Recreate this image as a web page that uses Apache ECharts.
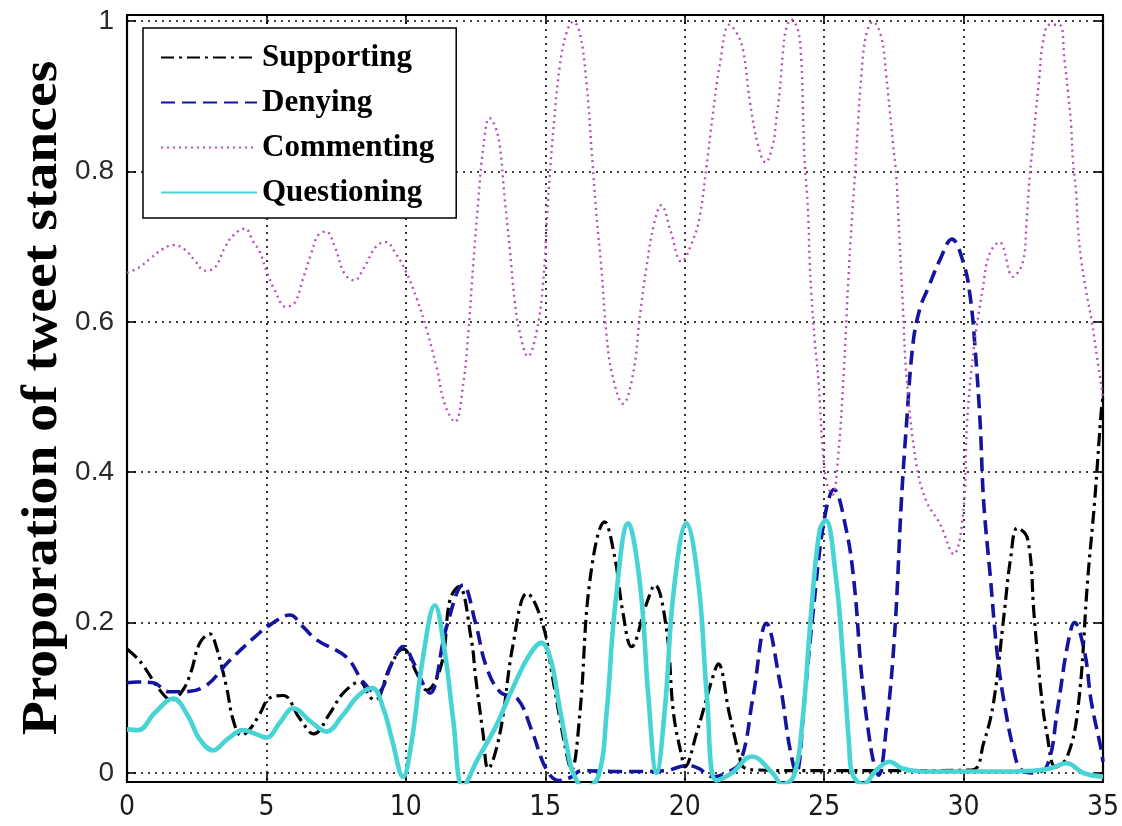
<!DOCTYPE html>
<html><head><meta charset="utf-8">
<script src="https://cdn.jsdelivr.net/npm/echarts@6/dist/echarts.min.js"></script>
<style>html,body{margin:0;padding:0;background:#fff}#c{width:1122px;height:826px}</style>
</head><body><div id="c"></div>
<script>
const seriesNames = ['Supporting', 'Denying', 'Commenting', 'Questioning'];
const yAxisTitle = 'Proporation of tweet stances';
const xTickValues = [0, 5, 10, 15, 20, 25, 30, 35];
const yTickValues = [0, 0.2, 0.4, 0.6, 0.8, 1];
const yTickLabels = ['0', '0.2', '0.4', '0.6', '0.8', '1'];

const supporting = [[0,0.165],[0.3,0.155],[0.6,0.142],[1.18,0.11],[1.6,0.097],[2.0,0.11],[2.3,0.135],[2.6,0.172],[2.97,0.185],[3.2,0.168],[3.57,0.114],[3.81,0.07],[4.1,0.05],[4.4,0.058],[4.71,0.075],[5.13,0.1],[5.6,0.103],[6.2,0.072],[6.7,0.052],[7.27,0.079],[7.75,0.106],[8.35,0.121],[8.71,0.101],[8.9,0.097],[9.43,0.141],[9.9,0.165],[10.4,0.132],[10.75,0.11],[11.28,0.145],[11.58,0.23],[11.9,0.248],[12.35,0.177],[12.5,0.128],[12.77,0.052],[12.95,0.006],[13.37,0.052],[13.85,0.172],[14.35,0.239],[14.9,0.199],[15.28,0.123],[15.76,0.026],[15.94,0.004],[16.24,0.079],[16.6,0.256],[17.13,0.334],[17.49,0.287],[17.79,0.212],[18.09,0.168],[18.63,0.225],[18.93,0.25],[19.35,0.19],[19.6,0.079],[19.9,0.021],[20.0,0.008],[20.42,0.052],[21.01,0.128],[21.2,0.145],[21.6,0.079],[21.97,0.021],[22.1,0.008],[22.6,0.004],[24,0.003],[26,0.003],[28,0.003],[30.3,0.004],[30.72,0.04],[31.08,0.095],[31.45,0.21],[31.69,0.286],[31.93,0.326],[32.3,0.311],[32.53,0.21],[32.77,0.11],[33.0,0.05],[33.3,0.008],[33.7,0.02],[34.1,0.085],[34.46,0.261],[34.7,0.361],[34.94,0.482],[35,0.5]];

const denying = [[0,0.12],[0.35,0.121],[0.94,0.12],[1.5,0.108],[1.9,0.108],[2.74,0.114],[3.69,0.15],[4.65,0.183],[5.13,0.197],[5.84,0.21],[6.3,0.195],[6.8,0.177],[7.87,0.154],[8.47,0.121],[8.95,0.106],[9.55,0.15],[9.9,0.168],[10.3,0.145],[10.6,0.12],[10.86,0.106],[11.46,0.194],[12.05,0.25],[12.5,0.199],[12.89,0.141],[13.4,0.107],[14.0,0.099],[14.5,0.058],[15.05,0.004],[15.5,-0.01],[15.9,-0.006],[16.3,0.003],[17.5,0.002],[18.5,0.002],[19.3,0.003],[20.1,0.01],[20.5,0.006],[21.0,-0.005],[21.5,0.0],[22.0,0.015],[22.45,0.101],[22.93,0.199],[23.4,0.123],[23.76,0.035],[24.0,0.0],[24.3,0.1],[24.6,0.212],[25.0,0.336],[25.35,0.377],[25.78,0.326],[26.08,0.251],[26.33,0.136],[26.57,0.06],[26.8,0.01],[26.95,-0.003],[27.23,0.06],[27.53,0.186],[27.77,0.361],[27.95,0.462],[28.19,0.572],[28.43,0.617],[28.73,0.645],[29.16,0.683],[29.58,0.71],[30.0,0.678],[30.24,0.633],[30.42,0.562],[30.6,0.462],[30.72,0.361],[30.96,0.261],[31.2,0.161],[31.45,0.095],[31.8,0.03],[32.05,0.005],[32.5,0.0],[33.0,0.01],[33.37,0.085],[33.73,0.17],[33.98,0.2],[34.34,0.161],[34.58,0.095],[34.94,0.03],[35,0.015]];

const commenting = [[0,0.665],[0.42,0.672],[0.83,0.684],[1.25,0.696],[1.67,0.702],[2.08,0.696],[2.44,0.681],[2.8,0.668],[3.15,0.672],[3.5,0.698],[3.81,0.715],[4.23,0.724],[4.52,0.707],[4.76,0.693],[5.0,0.668],[5.3,0.642],[5.69,0.62],[6.01,0.625],[6.3,0.656],[6.6,0.69],[6.85,0.715],[7.14,0.72],[7.45,0.7],[7.8,0.664],[8.15,0.655],[8.5,0.672],[8.93,0.7],[9.29,0.706],[9.6,0.693],[10.0,0.667],[10.4,0.63],[10.75,0.589],[11.1,0.54],[11.4,0.49],[11.76,0.467],[12.06,0.518],[12.24,0.585],[12.41,0.673],[12.6,0.762],[12.77,0.829],[13.0,0.871],[13.2,0.86],[13.37,0.833],[13.55,0.762],[13.73,0.696],[13.9,0.629],[14.09,0.585],[14.38,0.554],[14.68,0.585],[14.92,0.651],[15.1,0.762],[15.28,0.851],[15.52,0.94],[15.76,0.984],[16.0,0.999],[16.24,0.984],[16.48,0.917],[16.66,0.829],[16.84,0.74],[17.01,0.673],[17.19,0.585],[17.4,0.53],[17.79,0.491],[18.15,0.531],[18.39,0.607],[18.63,0.673],[18.9,0.73],[19.16,0.755],[19.5,0.72],[19.88,0.68],[20.3,0.709],[20.54,0.74],[20.78,0.806],[21.0,0.873],[21.25,0.94],[21.6,0.995],[21.85,0.985],[22.09,0.962],[22.33,0.895],[22.63,0.835],[22.9,0.812],[23.17,0.837],[23.28,0.868],[23.4,0.904],[23.52,0.957],[23.64,0.99],[23.82,1.002],[24.06,0.988],[24.18,0.948],[24.24,0.882],[24.3,0.815],[24.42,0.749],[24.48,0.682],[24.54,0.638],[24.66,0.576],[24.8,0.52],[24.95,0.43],[25.1,0.385],[25.3,0.37],[25.5,0.42],[25.7,0.53],[25.86,0.65],[25.98,0.727],[26.1,0.793],[26.21,0.86],[26.33,0.926],[26.51,0.982],[26.75,0.999],[27.05,0.979],[27.23,0.926],[27.35,0.882],[27.47,0.837],[27.59,0.793],[27.65,0.749],[27.71,0.704],[27.77,0.66],[27.83,0.616],[27.95,0.53],[28.3,0.412],[28.67,0.361],[29.16,0.331],[29.64,0.291],[30.0,0.351],[30.12,0.462],[30.36,0.562],[30.69,0.645],[30.93,0.69],[31.29,0.706],[31.77,0.66],[32.13,0.68],[32.25,0.727],[32.37,0.793],[32.49,0.837],[32.6,0.882],[32.72,0.926],[32.84,0.97],[33.08,0.995],[33.44,0.995],[33.62,0.948],[33.75,0.904],[33.86,0.86],[33.92,0.815],[34.04,0.771],[34.1,0.727],[34.22,0.682],[34.4,0.64],[34.6,0.6],[34.8,0.55],[35,0.5]];

const questioning = [[0,0.058],[0.4,0.057],[1.0,0.08],[1.66,0.099],[2.2,0.075],[2.6,0.045],[3.09,0.03],[3.6,0.045],[4.17,0.057],[4.6,0.052],[5.0,0.047],[5.5,0.068],[5.96,0.086],[6.6,0.068],[7.16,0.055],[7.7,0.075],[8.3,0.103],[8.8,0.113],[9.2,0.085],[9.5,0.045],[9.9,-0.005],[10.2,0.04],[10.6,0.15],[11.04,0.223],[11.4,0.16],[11.7,0.07],[12.05,-0.018],[12.6,0.02],[13.2,0.06],[13.8,0.11],[14.4,0.155],[14.86,0.173],[15.2,0.15],[15.5,0.09],[15.8,0.03],[16.0,0.0],[16.4,-0.02],[16.9,-0.005],[17.2,0.08],[17.5,0.22],[17.97,0.332],[18.4,0.25],[18.7,0.1],[18.99,0.0],[19.3,0.09],[19.6,0.24],[20.06,0.332],[20.5,0.25],[20.8,0.1],[21.14,-0.01],[21.7,0.0],[22.4,0.022],[23.15,0.0],[23.5,-0.015],[23.9,-0.005],[24.2,0.06],[24.55,0.22],[24.84,0.323],[25.06,0.336],[25.42,0.261],[25.66,0.161],[25.9,0.035],[26.0,0.0],[26.4,-0.015],[26.9,0.005],[27.35,0.015],[27.8,0.006],[28.5,0.002],[29.5,0.002],[30.5,0.002],[31.5,0.002],[32.5,0.003],[33.1,0.006],[33.7,0.013],[34.3,0.0],[35,-0.005]];

const chart = echarts.init(document.getElementById('c'), null, {renderer: 'canvas'});

function yLabel(v) {
  for (let i = 0; i < yTickValues.length; i++) {
    if (Math.abs(v - yTickValues[i]) < 1e-6) return yTickLabels[i];
  }
  return '';
}
const gridDots = {show: true, lineStyle: {color: '#000', width: 1.6, type: [2, 5]}};
const frameLine = {show: true, onZero: false, lineStyle: {color: '#000', width: 2.2}};
const inTick = {show: true, inside: true, length: 9, lineStyle: {color: '#000', width: 1.6}};
const xLabelFont = {fontSize: 28, color: '#1a1a1a', fontFamily: '"Liberation Sans Narrow", "DejaVu Sans Condensed", "Liberation Sans", Arial, sans-serif'};
const yLabelFont = {fontSize: 28, color: '#2a2a2a', fontFamily: '"Liberation Sans", Arial, sans-serif'};

const styles = [
  {color: '#000000', width: 3.2, type: [13, 5, 3, 5]},
  {color: '#1414a0', width: 3.6, type: [14, 7]},
  {color: '#b850b8', width: 2.4, type: [2, 4]},
  {color: '#48d4d4', width: 4.6, type: 'solid'}
];
const dataSets = [supporting, denying, commenting, questioning];

chart.setOption({
  animation: false,
  backgroundColor: '#fff',
  grid: {left: 127, right: 18, top: 15, bottom: 44, containLabel: false},
  xAxis: [
    {type: 'value', min: xTickValues[0], max: xTickValues[xTickValues.length - 1], interval: 5, position: 'bottom',
     axisLine: frameLine, axisTick: inTick, splitLine: gridDots,
     axisLabel: Object.assign({margin: 12}, xLabelFont)},
    {type: 'value', min: xTickValues[0], max: xTickValues[xTickValues.length - 1], interval: 5, position: 'top',
     axisLine: frameLine, axisTick: inTick, splitLine: {show: false}, axisLabel: {show: false}}
  ],
  yAxis: [
    {type: 'value', min: -0.012, max: 1.008, splitNumber: 5, position: 'left',
     axisLine: frameLine, axisTick: inTick, splitLine: gridDots,
     axisLabel: Object.assign({margin: 13, formatter: yLabel}, yLabelFont)},
    {type: 'value', min: -0.012, max: 1.008, splitNumber: 5, position: 'right',
     axisLine: frameLine, axisTick: inTick, splitLine: {show: false}, axisLabel: {show: false}}
  ],
  legend: {
    orient: 'vertical', left: 143, top: 28,
    padding: [14, 22, 10, 17],
    itemWidth: 96, itemHeight: 14, itemGap: 14,
    backgroundColor: '#fff', borderColor: '#000', borderWidth: 1.5,
    itemStyle: {opacity: 0},
    textStyle: {fontSize: 31, lineHeight: 30, fontWeight: 'bold', color: '#000', fontFamily: '"Liberation Serif", "Times New Roman", serif'},
    data: seriesNames
  },
  graphic: [{
    type: 'text', x: 43, y: 398, rotation: Math.PI / 2, scaleX: 1.16, scaleY: 1.05,
    style: {text: yAxisTitle, font: 'bold 48px "Liberation Serif", "Times New Roman", serif', fill: '#000',
            align: 'center', verticalAlign: 'middle', textAlign: 'center', textVerticalAlign: 'middle'}
  }],
  series: seriesNames.map((name, i) => ({
    name: name, type: 'line', data: dataSets[i], smooth: 0.4, symbol: 'none', showSymbol: false,
    lineStyle: styles[i], itemStyle: {color: styles[i].color}, z: 2 + i
  }))
});
</script></body></html>
